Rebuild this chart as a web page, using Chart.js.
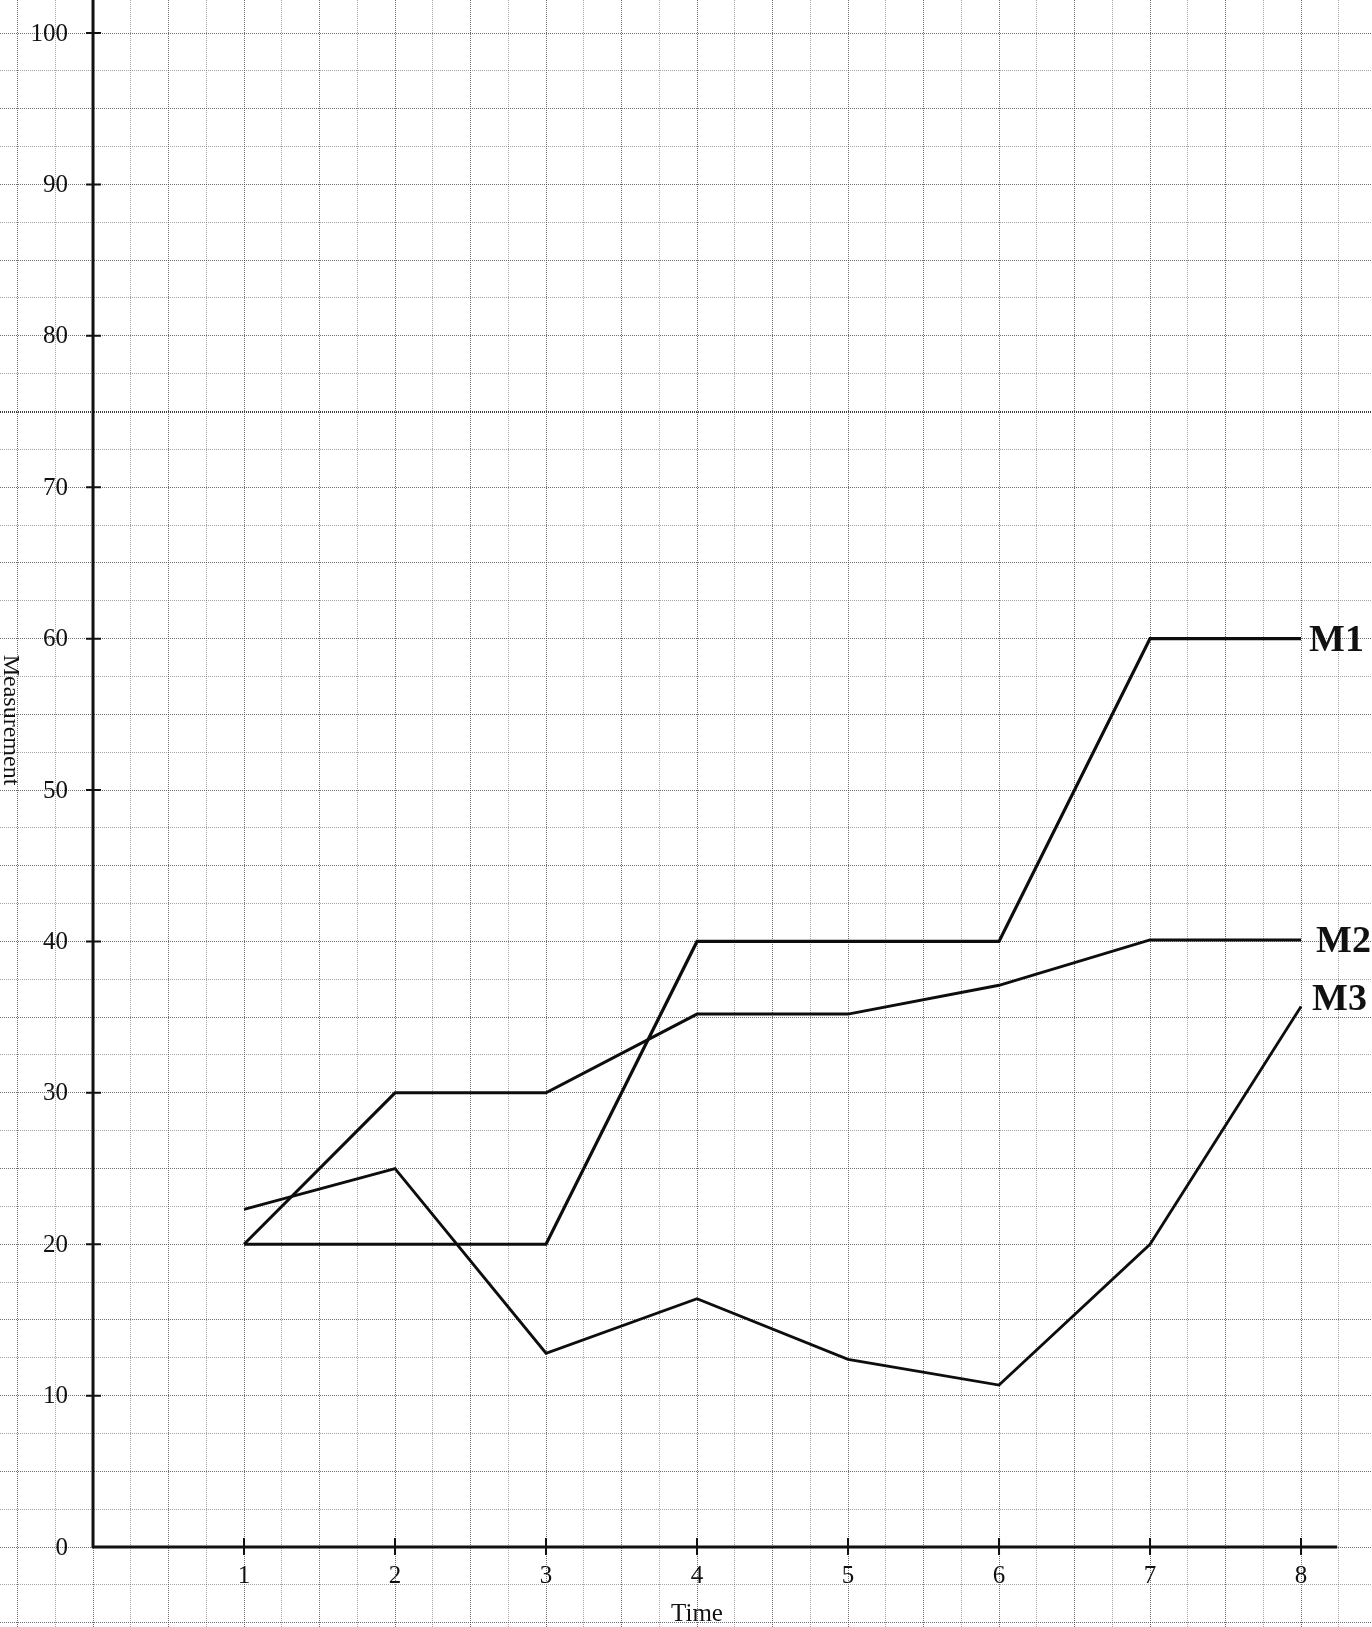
<!DOCTYPE html>
<html>
<head>
<meta charset="utf-8">
<title>Measurement over time</title>
<script src="https://cdn.jsdelivr.net/npm/chart.js@4.4.0/dist/chart.umd.min.js"></script>
<style>
  html, body { margin: 0; padding: 0; background: #fff; }
  canvas { display: block; }
</style>
</head>
<body>
<canvas id="graphPaper" width="1372" height="1627"></canvas>
<script>
// =====================
// Data
// =====================
const timePoints = [1, 2, 3, 4, 5, 6, 7, 8];
const m1Values = [20, 20, 20, 40, 40, 40, 60, 60];
const m2Values = [20, 30, 30, 35.2, 35.2, 37.1, 40.1, 40.1];
const m3Values = [22.3, 25, 12.8, 16.4, 12.4, 10.7, 20, 35.7];
const seriesNames = ['M1', 'M2', 'M3'];
const yTickLabels = [0, 10, 20, 30, 40, 50, 60, 70, 80, 90, 100];
const xTickLabels = [1, 2, 3, 4, 5, 6, 7, 8];

const SERIF = '"Liberation Serif", "DejaVu Serif", serif';

// small squares of the paper
const gridSteps = { x: 0.25, y: 2.5 };

const toPoints = (vals) => timePoints.map((t, i) => ({ x: t, y: vals[i] }));

const paperTicks = (step) => (scale) => {
  const ticks = [];
  for (let v = Math.ceil(scale.min / step) * step; v <= scale.max; v += step) {
    ticks.push({ value: +v.toFixed(4) });
  }
  scale.ticks = ticks;
};

const isMultiple = (v, m) => Math.abs(v / m - Math.round(v / m)) < 1e-6;

// =====================
// Paper background + hand-drawn axes, labels
// =====================
const paperPlugin = {
  id: 'paper',
  beforeDraw(chart) {
    const { ctx } = chart;
    ctx.save();
    ctx.fillStyle = '#ffffff';
    ctx.fillRect(0, 0, chart.width, chart.height);
    ctx.restore();
  },
  afterDatasetsDraw(chart) {
    const { ctx, scales: { x, y } } = chart;
    const x0 = x.getPixelForValue(0);
    const y0 = y.getPixelForValue(0);

    ctx.save();
    ctx.strokeStyle = '#111';
    ctx.lineWidth = 3;
    ctx.lineCap = 'butt';

    // axes
    ctx.beginPath();
    ctx.moveTo(x0, y0 + 1);
    ctx.lineTo(x0, 0);
    ctx.moveTo(x0 - 1, y0);
    ctx.lineTo(x.getPixelForValue(8.24), y0);
    ctx.stroke();

    // tick marks
    ctx.lineWidth = 2;
    ctx.beginPath();
    yTickLabels.forEach(v => {
      if (v === 0) return;
      const py = y.getPixelForValue(v);
      ctx.moveTo(x0 - 7, py);
      ctx.lineTo(x0 + 8, py);
    });
    xTickLabels.forEach(v => {
      const px = x.getPixelForValue(v);
      ctx.moveTo(px, y0 - 9);
      ctx.lineTo(px, y0 + 8);
    });
    ctx.stroke();

    // tick labels
    ctx.fillStyle = '#111';
    ctx.font = '25px ' + SERIF;
    ctx.textAlign = 'right';
    ctx.textBaseline = 'middle';
    yTickLabels.forEach(v => {
      ctx.fillText(String(v), x0 - 25, y.getPixelForValue(v) + 1);
    });
    ctx.textAlign = 'center';
    xTickLabels.forEach(v => {
      ctx.fillText(String(v), x.getPixelForValue(v), y0 + 29);
    });

    // axis titles
    ctx.textBaseline = 'alphabetic';
    ctx.fillText('Time', x.getPixelForValue(4), 1621);

    ctx.save();
    ctx.translate(10, 720);
    ctx.rotate(Math.PI / 2);
    ctx.textBaseline = 'middle';
    ctx.font = '24px ' + SERIF;
    ctx.fillText('Measurement', 0, 0);
    ctx.restore();

    // series labels at the end of each line
    const offsets = [[8, 3], [15, 2], [11, -6]];
    ctx.font = 'bold 38px ' + SERIF;
    ctx.textAlign = 'left';
    ctx.textBaseline = 'middle';
    chart.data.datasets.forEach((ds, i) => {
      const last = ds.data[ds.data.length - 1];
      ctx.fillText(seriesNames[i], x.getPixelForValue(last.x) + offsets[i][0], y.getPixelForValue(last.y) + offsets[i][1]);
    });
    ctx.restore();
  }
};

// =====================
// Render graph
// =====================
const lineStyle = (label, data, width) => ({
  label,
  data,
  borderColor: '#0d0d0d',
  borderWidth: width,
  pointRadius: 0,
  tension: 0,
  fill: false
});

const ctx = document.getElementById('graphPaper').getContext('2d');
new Chart(ctx, {
  type: 'line',
  data: {
    datasets: [
      lineStyle(seriesNames[0], toPoints(m1Values), 3.2),
      lineStyle(seriesNames[1], toPoints(m2Values), 3),
      lineStyle(seriesNames[2], toPoints(m3Values), 2.8)
    ]
  },
  options: {
    responsive: false,
    animation: false,
    devicePixelRatio: 1,
    layout: { padding: 0 },
    plugins: {
      legend: { display: false },
      tooltip: { enabled: false }
    },
    scales: {
      x: {
        type: 'linear',
        min: -0.616,
        max: 8.47,
        afterBuildTicks: paperTicks(gridSteps.x),
        ticks: { display: false, autoSkip: false },
        border: { display: false, dash: [1, 1] },
        grid: {
          drawTicks: false,
          lineWidth: 1,
          color: (c) => isMultiple(c.tick.value, 0.5) ? 'rgba(60,60,60,0.75)' : 'rgba(90,90,90,0.55)'
        }
      },
      y: {
        type: 'linear',
        min: -5.28,
        max: 102.18,
        afterBuildTicks: paperTicks(gridSteps.y),
        ticks: { display: false, autoSkip: false },
        border: { display: false, dash: [1, 1] },
        grid: {
          drawTicks: false,
          lineWidth: (c) => c.tick.value === 75 ? 2 : 1,
          color: (c) => {
            if (c.tick.value === 75) return 'rgba(40,40,40,0.9)';
            return isMultiple(c.tick.value, 5) ? 'rgba(60,60,60,0.75)' : 'rgba(90,90,90,0.55)';
          }
        }
      }
    }
  },
  plugins: [paperPlugin]
});
</script>
</body>
</html>
